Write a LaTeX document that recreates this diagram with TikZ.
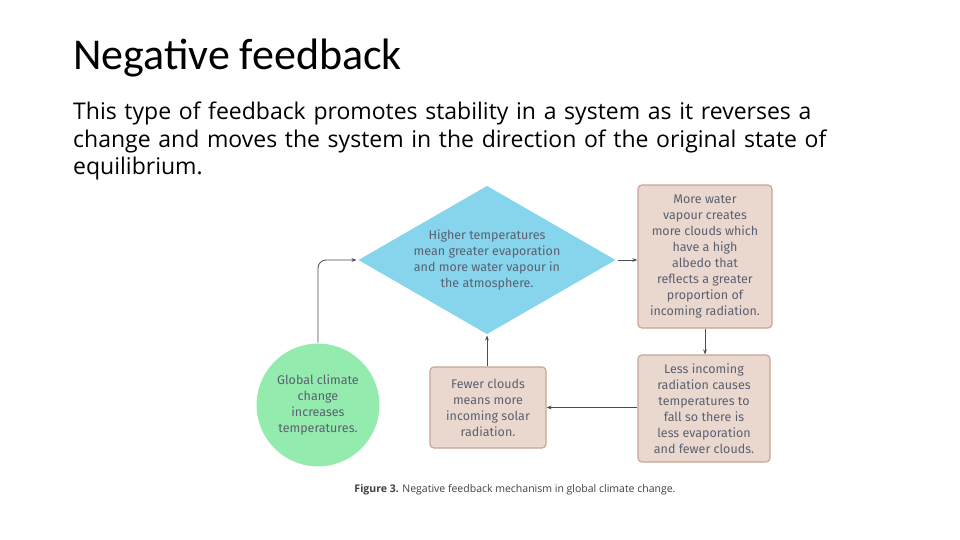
\documentclass[tikz,border=0pt]{standalone}
\usepackage{fontspec}
\setmainfont{Open Sans}
\newfontfamily\titlefont{Carlito}
\newfontfamily\handfont{Fira Sans}
\usetikzlibrary{shapes.geometric,arrows.meta}
\definecolor{diamondblue}{HTML}{86D5EC}
\definecolor{boxtan}{HTML}{EAD8CF}
\definecolor{boxedge}{HTML}{C8A595}
\definecolor{circgreen}{HTML}{93EBAE}
\definecolor{handink}{HTML}{5A6070}
\tikzset{
  hand/.style={font=\handfont\fontsize{12.5}{16}\selectfont,text=handink,align=center},
  tanbox/.style={hand,draw=boxedge,fill=boxtan,line width=1.2pt,rounded corners=4pt,inner sep=2pt},
  link/.style={draw=black!70,line width=0.8pt,-{Stealth[length=5pt]}}
}
\begin{document}
\begin{tikzpicture}[x=1pt,y=-1pt]
\useasboundingbox[fill=white] (0,0) rectangle (960,540);
\node[anchor=west,inner sep=0pt,font=\titlefont\fontsize{44}{46}\selectfont] (title) at (73,58) {Negative feedback};
\node[anchor=north west,align=left,inner sep=0pt,text width=800pt,
  font=\fontsize{23}{27.5}\selectfont] (intro) at (73,102)
  {This type of feedback promotes stability in a system as it reverses a change and moves the system in the direction of the original state of equilibrium.};
\node[diamond,fill=diamondblue,draw=white,line width=1pt,minimum width=260pt,minimum height=150pt,
  inner sep=0pt] (hot) at (487,260) {};
\node[hand] (hottext) at (hot.center)
  {Higher temperatures\\mean greater evaporation\\and more water vapour in\\the atmosphere.};
\node[tanbox,minimum width=134pt,minimum height=143pt] (clouds) at (705,256.5)
  {More water\\vapour creates\\more clouds which\\have a high\\albedo that\\reflects a greater\\proportion of\\incoming radiation.};
\node[tanbox,minimum width=132pt,minimum height=107pt] (cool) at (704,408.5)
  {Less incoming\\radiation causes\\temperatures to\\fall so there is\\less evaporation\\and fewer clouds.};
\node[tanbox,minimum width=116pt,minimum height=81pt] (fewer) at (488,407.5)
  {Fewer clouds\\means more\\incoming solar\\radiation.};
\node[circle,hand,fill=circgreen,draw=white,line width=1pt,minimum size=124pt,inner sep=0pt] (global) at (318,405)
  {Global climate\\change\\increases\\temperatures.};
\draw[link,rounded corners=8pt] (global.north) |- (hot.west);
\draw[link] (hot.east) -- (clouds.west |- hot.east);
\draw[link] (clouds.south) -- (clouds.south |- cool.north);
\draw[link] (cool.west |- fewer.east) -- (fewer.east);
\draw[link] (fewer.north -| hot.south) -- (hot.south);
\node[font=\fontsize{10.5}{12}\selectfont,text=black!75] (caption) at (515,490)
  {\textbf{Figure 3.} Negative feedback mechanism in global climate change.};
\end{tikzpicture}
\end{document}
